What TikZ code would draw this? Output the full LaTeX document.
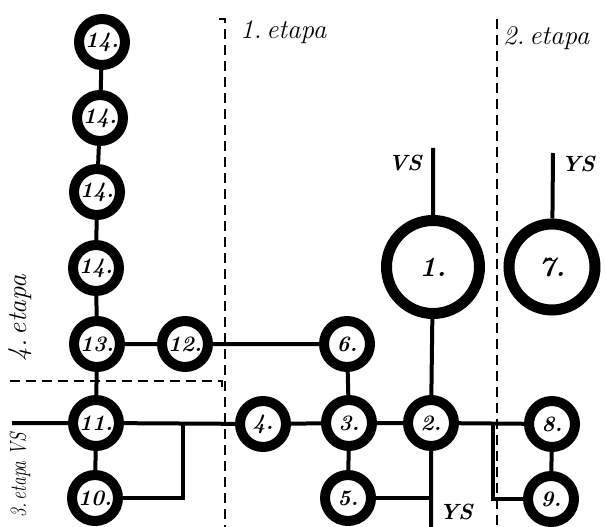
\documentclass[tikz,border=0pt]{standalone}
\usepackage{fontspec}
\usetikzlibrary{calc}
\begin{document}
\begin{tikzpicture}[x=1pt,y=-1pt,
  ring/.style={circle,draw=black,line width=10pt,minimum size=46pt,inner sep=0pt,
    font=\fontsize{22}{22}\selectfont\bfseries\itshape},
  bigring/.style={ring,line width=11pt,font=\fontsize{28}{28}\selectfont\bfseries\itshape},
  conn/.style={line width=4pt},
  stage/.style={line width=2.8pt,dash pattern=on 10pt off 6pt},
  lbl/.style={font=\fontsize{27}{27}\selectfont\itshape,inner sep=0pt},
  vs/.style={font=\fontsize{22}{22}\selectfont\bfseries\itshape,inner sep=0pt}]
\useasboundingbox (0,0) rectangle (606,527);
% nodes
\node[ring] (n14a) at (102,42) {14.};
\node[ring] (n14b) at (100,118) {14.};
\node[ring] (n14c) at (97,192) {14.};
\node[ring] (n14d) at (96,268) {14.};
\node[ring] (n13) at (97,344) {13.};
\node[ring] (n12) at (185,344) {12.};
\node[ring] (n6) at (347,344) {6.};
\node[ring] (n11) at (96,423) {11.};
\node[ring] (n4) at (263,424) {4.};
\node[ring] (n3) at (349,423) {3.};
\node[ring] (n2) at (431,423) {2.};
\node[ring] (n8) at (552,424) {8.};
\node[ring] (n10) at (95,498) {10.};
\node[ring] (n5) at (348,498) {5.};
\node[ring] (n9) at (551,499) {9.};
\node[bigring,minimum size=93pt] (n1) at (433,267) {1.};
\node[bigring,minimum size=86pt] (n7) at (552,267) {7.};
% free ends
\coordinate (vs1) at (433,148);
\coordinate (vs7) at (553,153);
\coordinate (lft) at (12,423);
\coordinate (b2) at (431,527);
\coordinate (j1) at (183,423);
\coordinate (j2) at (493,423);
% connectors
\draw[conn] (n14a) -- (n14b) -- (n14c) -- (n14d) -- (n13) -- (n11) -- (n10);
\draw[conn] (n13) -- (n12) -- (n6) -- (n3) -- (n5);
\draw[conn] (lft) -- (n11) -- (n4) -- (n3) -- (n2) -- (n8) -- (n9);
\draw[conn] (n10.east) -- (j1 |- n10) -- (j1);
\draw[conn] (vs1) -- (n1) -- (n2) -- (b2);
\draw[conn] (n5.east) -- (n5 -| b2);
\draw[conn] (vs7) -- (n7);
\draw[conn] (n9.west) -- (j2 |- n9) -- (j2);
% stage boundaries
\draw[stage] (219,19) -- (225,19) -- (225,527);
\draw[stage] (497,19) -- (497,527);
\draw[stage] (10,381) -- (222,381) -- (222,388);
% labels
\node[lbl,anchor=west] (e1) at (240,32) {1.\,etapa};
\node[lbl,anchor=west] (e2) at (503,38) {2.\,etapa};
\node[lbl,rotate=90] (e4) at (20,318) {4.\,etapa};
\node[lbl,rotate=90] (e3) at (20,475) {\scalebox{0.76}[1]{\fontsize{23}{23}\selectfont\itshape 3.\,etapa VS}};
\node[vs] (t1) at (405,163) {VS};
\node[vs] (t7) at (578,164) {YS};
\node[vs] (t2) at (456,512) {YS};
\end{tikzpicture}
\end{document}
